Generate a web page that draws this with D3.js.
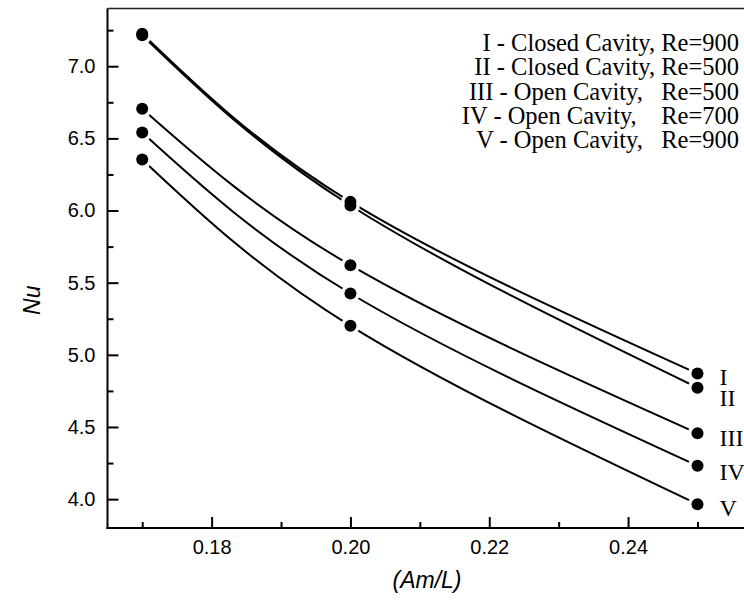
<!DOCTYPE html>
<html>
<head>
<meta charset="utf-8">
<script src="https://cdn.jsdelivr.net/npm/d3@7"></script>
<style>
  body { margin: 0; background: #fff; }
  svg { display: block; }
</style>
</head>
<body>
<svg></svg>
<script>
// x values (Am/L)
var amL = [0.17, 0.20, 0.25];
// Nu for each case
var seriesNames = ["I", "II", "III", "IV", "V"];
var nuI   = [7.225, 6.060, 4.870];
var nuII  = [7.215, 6.035, 4.772];
var nuIII = [6.705, 5.621, 4.456];
var nuIV  = [6.540, 5.425, 4.232];
var nuV   = [6.354, 5.201, 3.965];
var legendLines = [
  "I - Closed Cavity, Re=900",
  "II - Closed Cavity, Re=500",
  "III - Open Cavity,   Re=500",
  "IV - Open Cavity,    Re=700",
  "V - Open Cavity,   Re=900"
];
var xMajor = [0.18, 0.20, 0.22, 0.24];
var xMinor = [0.17, 0.19, 0.21, 0.23, 0.25];
var yMajor = [4.0, 4.5, 5.0, 5.5, 6.0, 6.5, 7.0];
var yMinor = [4.25, 4.75, 5.25, 5.75, 6.25, 6.75, 7.25];

var allSeries = [nuI, nuII, nuIII, nuIV, nuV];
var labelDy = [3, 10, 4, 6, 3];  // roman label nudges

var svgWidth = 744, svgHeight = 604;
var plotLeft = 107.5, plotTop = 8.5, plotBottom = 528, plotRight = 744;

var svg = d3.select("svg")
    .attr("width", svgWidth)
    .attr("height", svgHeight);

var x = d3.scaleLinear().domain([0.165, 0.2567]).range([plotLeft, plotRight]);
var y = d3.scaleLinear().domain([3.8, 7.4]).range([plotBottom, plotTop]);

// top border
svg.append("line")
    .attr("x1", plotLeft).attr("x2", plotRight)
    .attr("y1", plotTop).attr("y2", plotTop)
    .attr("stroke", "#222").attr("stroke-width", 1.5);

// x axis
var xAxis = svg.append("g").attr("transform", "translate(0," + plotBottom + ")");
xAxis.call(d3.axisBottom(x).tickValues(xMajor).tickSizeInner(-11).tickSizeOuter(0)
    .tickFormat(d3.format(".2f")));
xAxis.append("g").call(d3.axisBottom(x).tickValues(xMinor).tickSizeInner(-6).tickSizeOuter(0)
    .tickFormat(""));
xAxis.selectAll(".domain").remove();
xAxis.append("line").attr("x1", plotLeft - 1).attr("x2", plotRight).attr("stroke", "#000").attr("stroke-width", 2);

// y axis
var yAxis = svg.append("g").attr("transform", "translate(" + plotLeft + ",0)");
yAxis.call(d3.axisLeft(y).tickValues(yMajor).tickSizeInner(-11).tickSizeOuter(0)
    .tickFormat(d3.format(".1f")));
yAxis.append("g").call(d3.axisLeft(y).tickValues(yMinor)
    .tickSizeInner(-6).tickSizeOuter(0).tickFormat(""));
yAxis.selectAll(".domain").remove();
yAxis.append("line").attr("y1", plotTop).attr("y2", plotBottom + 1).attr("stroke", "#000").attr("stroke-width", 2);

svg.selectAll(".tick line").attr("stroke", "#000").attr("stroke-width", 2);
svg.selectAll(".tick text")
    .attr("fill", "#000")
    .style("font-family", "'Liberation Sans', Arial, sans-serif")
    .style("font-size", "20px");
xAxis.selectAll(".tick text").attr("y", 12);
yAxis.selectAll(".tick text").attr("x", -12);

// curves
var line = d3.line()
    .x(function(d, i) { return x(amL[i]); })
    .y(function(d) { return y(d); })
    .curve(d3.curveNatural);

svg.selectAll("path.curve")
    .data(allSeries)
    .enter()
    .append("path")
    .attr("class", "curve")
    .attr("d", line)
    .attr("fill", "none")
    .attr("stroke", "#000")
    .attr("stroke-width", 2);

// points with white halo
var pts = [];
allSeries.forEach(function(s, k) {
  s.forEach(function(v, i) { pts.push({x: amL[i], y: v, k: k}); });
});
svg.selectAll("circle.halo")
    .data(pts).enter().append("circle")
    .attr("class", "halo")
    .attr("cx", function(d) { return x(d.x); })
    .attr("cy", function(d) { return y(d.y); })
    .attr("r", 9.5)
    .attr("fill", "#fff");
svg.selectAll("circle.pt")
    .data(pts).enter().append("circle")
    .attr("class", "pt")
    .attr("cx", function(d) { return x(d.x); })
    .attr("cy", function(d) { return y(d.y); })
    .attr("r", 6)
    .attr("fill", "#000");

// roman labels
svg.selectAll("text.roman")
    .data(allSeries).enter().append("text")
    .attr("class", "roman")
    .attr("x", x(amL[2]) + 22)
    .attr("y", function(d, i) { return y(d[2]) + labelDy[i]; })
    .attr("dy", "0.35em")
    .style("font-family", "'Liberation Serif', 'Times New Roman', serif")
    .style("font-size", "24px")
    .text(function(d, i) { return seriesNames[i]; });

// legend
svg.selectAll("text.legend")
    .data(legendLines).enter().append("text")
    .attr("class", "legend")
    .attr("x", 739)
    .attr("y", function(d, i) { return 43 + i * 24.3; })
    .attr("dy", "0.33em")
    .attr("text-anchor", "end")
    .attr("xml:space", "preserve")
    .style("white-space", "pre")
    .style("font-family", "'Liberation Serif', 'Times New Roman', serif")
    .style("font-size", "24.5px")
    .text(function(d) { return d; });

// axis titles
svg.append("text")
    .attr("transform", "translate(40," + ((plotTop + plotBottom) / 2 + 32) + ") rotate(-90)")
    .attr("text-anchor", "middle")
    .style("font-family", "'Liberation Sans', Arial, sans-serif")
    .style("font-style", "italic")
    .style("font-size", "23px")
    .text("Nu");

svg.append("text")
    .attr("x", 427)
    .attr("y", 588)
    .attr("text-anchor", "middle")
    .style("font-family", "'Liberation Sans', Arial, sans-serif")
    .style("font-style", "italic")
    .style("font-size", "23px")
    .text("(Am/L)");
</script>
</body>
</html>
